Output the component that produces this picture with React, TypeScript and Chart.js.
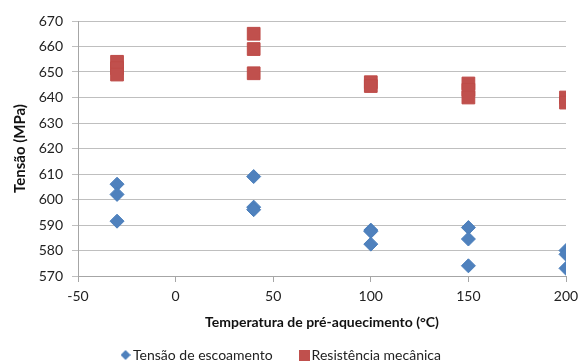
import React, { useEffect, useRef } from "react";
import { Chart, registerables } from "chart.js";

Chart.register(...registerables);

const yieldLabel = "Tensão de escoamento";
const strengthLabel = "Resistência mecânica";
const xTitle = "Temperatura de pré-aquecimento (°C)";
const yTitle = "Tensão (MPa)";

const yieldTemps = [-30, -30, -30, 40, 40, 40, 100, 100, 100, 150, 150, 150, 200, 200, 200];
const yieldValues = [606, 602, 591.5, 609, 597, 596, 588, 587.5, 582.5, 589, 584.5, 574, 580, 578.5, 573];

const strengthTemps = [-30, -30, -30, 40, 40, 40, 100, 100, 150, 150, 150, 200, 200];
const strengthValues = [654, 651.5, 649, 665, 659, 649.5, 646, 644.5, 645.5, 643, 640, 640, 638];

const xMin = -50;
const xMax = 200;
const xStep = 50;
const yMin = 570;
const yMax = 670;
const yStep = 10;

const BLUE = "#4f81bd";
const RED = "#c0504d";
const FONT = "Lato, 'Open Sans', sans-serif";

function makeIcon(kind: "diamond" | "square", color: string) {
  const c = document.createElement("canvas");
  const s = kind === "diamond" ? 10 : 11;
  c.width = s;
  c.height = s;
  const ctx = c.getContext("2d")!;
  ctx.fillStyle = color;
  if (kind === "diamond") {
    ctx.beginPath();
    ctx.moveTo(s / 2, 0);
    ctx.lineTo(s, s / 2);
    ctx.lineTo(s / 2, s);
    ctx.lineTo(0, s / 2);
    ctx.closePath();
    ctx.fill();
  } else {
    ctx.fillRect(0, 0, s, s);
  }
  return c;
}

export default function App() {
  const ref = useRef<HTMLCanvasElement | null>(null);

  useEffect(() => {
    document.body.style.margin = "0";
    if (!ref.current) return;
    const icons = [makeIcon("diamond", BLUE), makeIcon("square", RED)];
    const toPts = (xs: number[], ys: number[]) => xs.map((x, i) => ({ x, y: ys[i] }));
    const chart = new Chart(ref.current, {
      type: "scatter",
      data: {
        datasets: [
          {
            label: yieldLabel,
            data: toPts(yieldTemps, yieldValues),
            pointStyle: "rectRot",
            pointRadius: 7,
            backgroundColor: BLUE,
            borderColor: "#4a7ebb",
            borderWidth: 1,
          },
          {
            label: strengthLabel,
            data: toPts(strengthTemps, strengthValues),
            pointStyle: "rect",
            pointRadius: 9,
            backgroundColor: RED,
            borderColor: "#be4b48",
            borderWidth: 1,
          },
        ],
      },
      options: {
        responsive: false,
        animation: false,
        layout: { padding: { top: 21, right: 13, left: 0, bottom: 0 } },
        plugins: {
          tooltip: { enabled: false },
          legend: {
            position: "bottom",
            maxHeight: 46,
            labels: {
              usePointStyle: true,
              pointStyleWidth: 1,
              padding: 31,
              color: "#222",
              font: { family: FONT, size: 14 },
              generateLabels: (ch: any) => {
                const items = Chart.defaults.plugins.legend.labels.generateLabels(ch);
                items.forEach((it: any, i: number) => {
                  it.pointStyle = icons[i];
                });
                return items;
              },
            },
          },
        },
        scales: {
          x: {
            type: "linear",
            min: xMin,
            max: xMax,
            afterFit: (s: any) => {
              s.height = 41;
              s.paddingLeft = 0;
              s.paddingRight = 0;
            },
            ticks: {
              stepSize: xStep,
              padding: 6,
              color: "#222",
              font: { family: FONT, size: 14 },
            },
            grid: {
              drawOnChartArea: false,
              drawTicks: true,
              tickLength: 6,
              color: "#a6a6a6",
            },
            border: { color: "#a6a6a6" },
            title: {
              display: true,
              text: xTitle,
              color: "#111",
              font: { family: FONT, size: 14, weight: "bold", lineHeight: 1 },
              padding: { top: 0, bottom: -12 },
            },
          },
          y: {
            type: "linear",
            min: yMin,
            max: yMax,
            afterFit: (s: any) => {
              s.width = 78;
              s.paddingTop = 0;
              s.paddingBottom = 0;
            },
            ticks: {
              stepSize: yStep,
              padding: 9,
              color: "#222",
              font: { family: FONT, size: 14 },
            },
            grid: {
              color: "#bfbfbf",
              drawTicks: true,
              tickLength: 6,
            },
            border: { color: "#a6a6a6" },
            title: {
              display: true,
              text: yTitle,
              color: "#111",
              font: { family: FONT, size: 15, weight: "bold", lineHeight: 1 },
              padding: { top: 13, bottom: 0 },
            },
          },
        },
      },
    });
    return () => chart.destroy();
  }, []);

  return (
    <div style={{ width: 579, height: 363, background: "#fff" }}>
      <canvas ref={ref} width={579} height={363} />
    </div>
  );
}
